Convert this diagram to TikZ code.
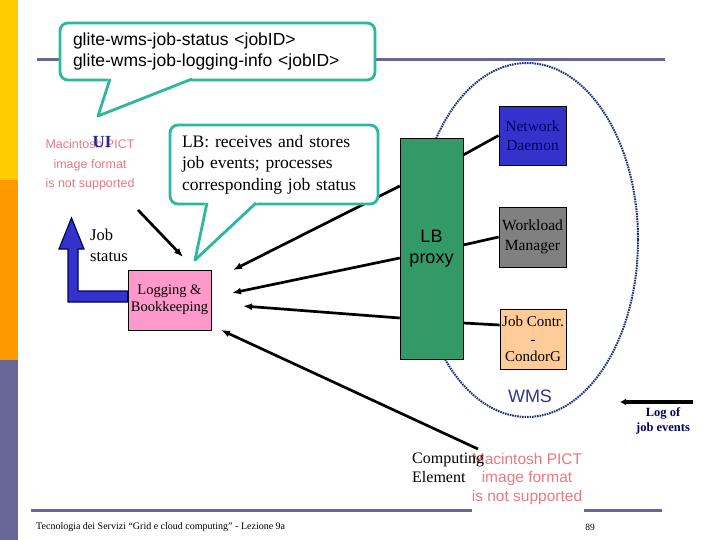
\documentclass[tikz,border=0pt]{standalone}
\usepackage{fontspec}
\setmainfont{Liberation Serif}
\newfontfamily\arial{Liberation Sans}
\usetikzlibrary{arrows.meta}
\definecolor{tealc}{RGB}{46,184,154}
\definecolor{sideyellow}{RGB}{255,204,0}
\definecolor{sideorange}{RGB}{255,153,0}
\definecolor{slate}{RGB}{102,102,153}
\definecolor{navyd}{RGB}{31,51,119}
\definecolor{ndblue}{RGB}{51,51,204}
\definecolor{wmgrey}{RGB}{128,128,128}
\definecolor{peach}{RGB}{255,204,153}
\definecolor{lbgreen}{RGB}{51,153,102}
\definecolor{lbpink}{RGB}{255,153,204}
\definecolor{pict}{RGB}{236,120,128}
\definecolor{wmstext}{RGB}{51,51,153}
\definecolor{darknavy}{RGB}{0,0,102}
\definecolor{uiblue}{RGB}{40,40,140}
\begin{document}
\begin{tikzpicture}[x=1pt,y=-1pt,
  conn/.style={line width=2.7pt, -{Latex[length=9pt,width=7pt]}},
  link/.style={line width=2.7pt},
  wbox/.style={draw=black, line width=0.8pt, minimum width=67pt, minimum height=60pt, inner sep=0pt, align=center, font=\fontsize{15.5}{19.5}\selectfont},
  callout/.style={draw=tealc, line width=2.8pt, fill=white, rounded corners=8pt},
  tail/.style={draw=tealc, line width=2.8pt, line join=round},
  pictfont/.style={text=pict, align=center, inner sep=0pt},
  rule/.style={draw=slate, line width=3pt}
  ]
\useasboundingbox (0,0) rectangle (720,540);
% sidebar
\fill[sideyellow] (0,0) rectangle (18,180);
\fill[sideorange] (0,180) rectangle (18,360);
\fill[slate] (0,360) rectangle (18,540);
% rules
\draw[rule] (37,60) -- (665,60);
\draw[rule] (31,510) -- (472,510);
\draw[rule] (584,510) -- (662,510);
% WMS ellipse
\draw[navyd, line width=2pt, dash pattern=on 1.6pt off 0.9pt] (527,240) ellipse [x radius=111, y radius=177];
% nodes
\node[draw=black, line width=0.5pt, fill=lbgreen, minimum width=63pt, minimum height=221pt, align=center, font=\arial\fontsize{18}{21}\selectfont] (lbp) at (431.5,248.5) {LB\\proxy};
\node[wbox, fill=ndblue, text=darknavy, minimum height=59pt] (nd) at (532.5,135.5) {Network\\Daemon};
\node[wbox, fill=wmgrey] (wm) at (532.5,237) {Workload\\Manager};
\node[wbox, fill=peach, minimum width=66pt, font=\fontsize{15}{17.5}\selectfont] (jc) at (533,339) {Job Contr.\\-\\CondorG};
\node[draw=black, line width=0.8pt, fill=lbpink, minimum width=83pt, minimum height=60pt, inner sep=0pt, align=center, font=\fontsize{14.5}{17}\selectfont] (lb) at (169.5,300) {Logging \&\\Bookkeeping};
% placeholders
\node[pictfont, font=\arial\fontsize{12.5}{19.5}\selectfont] (pict1) at (90,165) {Macintosh PICT\\image format\\is not supported};
\node[text=uiblue, font=\bfseries\fontsize{17}{17}\selectfont, inner sep=0pt] (ui) at (102,142) {UI};
\node[pictfont, font=\arial\fontsize{15.5}{18.5}\selectfont] (pict2) at (527,478.5) {Macintosh PICT\\image format\\is not supported};
% texts
\node[anchor=west, align=left, inner sep=0pt, font=\fontsize{16.5}{21}\selectfont] (js) at (90,245.5) {Job\\status};
\node[anchor=west, align=left, inner sep=0pt, font=\fontsize{16}{19}\selectfont] (ce) at (412,467.5) {Computing\\Element};
\node[text=wmstext, font=\arial\fontsize{18}{18}\selectfont, inner sep=0pt] (wms) at (530,396) {WMS};
\node[text=darknavy, align=center, inner sep=0pt, font=\bfseries\fontsize{12.5}{15}\selectfont] (log) at (663,420.5) {Log of\\job events};
\node[anchor=west, inner sep=0pt, font=\fontsize{10}{10}\selectfont] (foot) at (36,527) {Tecnologia dei Servizi “Grid e cloud computing” - Lezione 9a};
\node[inner sep=0pt, font=\fontsize{9.5}{9.5}\selectfont] (pg) at (590,527) {89};
% free ends
\coordinate (t1) at (233,270);
\coordinate (t2) at (232,293);
\coordinate (t3) at (243,306);
\coordinate (t4) at (221,330);
\coordinate (cefrom) at (478,449);
\coordinate (uifrom) at (138,210);
\coordinate (uito) at (183,257);
\coordinate (logfrom) at (693,402);
\coordinate (logto) at (620,402);
% connectors
\draw[link] (lbp.east |- {(0,155)}) -- (nd.west);
\draw[link] (lbp.east |- {(0,245)}) -- (wm.west);
\draw[link] (lbp.east |- {(0,323)}) -- (jc.west |- {(0,325)});
\draw[conn] (lbp.west |- {(0,186)}) -- (t1);
\draw[conn] (lbp.west |- {(0,258)}) -- (t2);
\draw[conn] (lbp.west |- {(0,318)}) -- (t3);
\draw[conn] (cefrom) -- (t4);
\draw[conn] (uifrom) -- (uito);
\draw[line width=4pt, -{Latex[length=6pt,width=7pt]}] (logfrom) -- (logto);
% job status arrow
\filldraw[fill=ndblue, draw=darknavy, line width=1.2pt, line join=miter]
  (lb.west |- {(0,291)}) -- (78,291) -- (78,249) -- (84,249) -- (71.5,218) -- (59,249) -- (68,249) -- (68,302) -- (lb.west |- {(0,302)}) -- cycle;
% callout 1
\node[callout, minimum width=315pt, minimum height=57pt, text width=289pt, align=left, inner xsep=13pt, inner ysep=0pt, font=\arial\fontsize{17.5}{21}\selectfont] (c1) at (217.5,51.5) {glite-wms-job-status <jobID>\\glite-wms-job-logging-info <jobID>};
\fill[white] (108.5,78) -- (98,116) -- (193.5,78) -- cycle;
\draw[tail] (110,79) -- (98,116) -- (192,79);
% callout 2
\node[callout, minimum width=208pt, minimum height=79pt, text width=184pt, align=left, inner xsep=12pt, inner ysep=0pt, font=\fontsize{17.5}{21.5}\selectfont] (c2) at (274,164.5) {LB: receives and stores\\job events; processes\\corresponding job status};
\fill[white] (205.5,202) -- (195,260) -- (257.5,202) -- cycle;
\draw[tail] (207,203) -- (195,260) -- (256,203);
\end{tikzpicture}
\end{document}
